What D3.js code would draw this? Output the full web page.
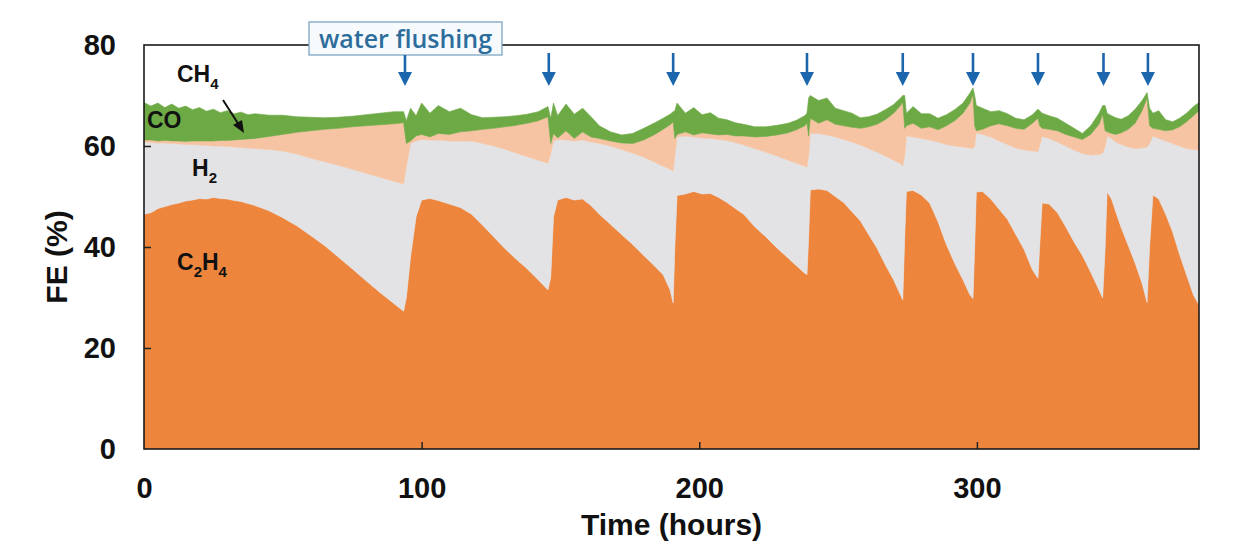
<!DOCTYPE html>
<html>
<head>
<meta charset="utf-8">
<script src="https://cdn.jsdelivr.net/npm/d3@7/dist/d3.min.js"></script>
<style>
  html, body { margin: 0; padding: 0; background: #ffffff; }
  svg { display: block; }
</style>
</head>
<body>
<svg id="chart" width="1234" height="556"></svg>
<script>
// ---------------- DATA ----------------
const time = [0,2.5,5,7.5,10,12.5,15,17.5,20,22.5,25,27.5,30,32.5,35,37.5,40,45,50,55,60,65,70,75,80,85,90,93.5,
  94.5,96,98,100,103,106,110,114,118,122,126,130,134,138,142,145.5,
  146.5,147.5,149,152,155,158,161,164,168,172,176,180,184,187,189.5,190.6,
  191.2,192,195,198,201,204,207,210,213,216,220,224,228,232,235,238,238.8,
  239.4,240,243,246,249,252,255,258,261,264,267,270,272.5,273.3,
  274,274.6,277,280,283,286,289,292,295,297.5,298.6,
  299.2,299.8,302,305,308,311,314,317,320,322,
  322.6,323.5,326,329,332,335,338,341,344,345.3,
  346.2,346.9,348.5,350,352,354.5,357,359.5,361.3,
  362.2,363.4,365.5,368,370.5,373,375.5,378,380];

const c2h4 = [46.5,46.8,47.6,48,48.4,48.7,49.1,49.3,49.6,49.5,49.8,49.6,49.5,49.2,49,48.6,48.2,47.2,45.8,44.2,42.3,40.3,38,35.7,33.3,31,28.8,27.3,
  30,38,46,49.3,49.6,49.2,48.5,47.8,46.5,44.3,42,39.7,37.6,35.7,33.5,31.5,
  34,46,49.3,49.8,49.3,49.5,48.2,46.5,44.5,42.5,40.5,38.3,36.2,34.5,31.5,28.9,
  40,50.2,50.5,51,50.5,50.6,49.8,48.8,47.6,46.5,44,42,39.8,37.8,36.3,34.8,34.5,
  42,51.3,51.5,51.2,50,48.8,47,45.2,42.5,39.8,36.5,33.5,30.5,29.5,
  42,51,51.2,50.3,48.7,45,40.5,36.8,33.5,30.5,29.8,
  40,50.9,51,49.5,47.5,45.5,42.5,39.5,35.5,33.8,
  40,48.7,48.5,46.8,44,41,38.3,35,31.5,29.9,
  40,50.9,49.5,47,43.8,40.3,36.8,32.8,29,
  40,50.3,49.5,46.5,43,38.5,34.5,30.5,28.5];

const h2 = [14.3,13.9,13.0,12.6,12.1,11.7,11.2,11.0,10.6,10.6,10.2,10.4,10.4,10.6,10.7,11.0,11.3,12.1,13.2,14.2,15.3,16.6,18.2,19.7,21.3,22.8,24.2,25.2,
  26,22.5,15,12,11.6,12,12.5,13.2,14.5,16.2,18,19.7,21,22.2,23.7,25.1,
  24.5,15,12,11.4,11.7,11.7,12.6,14,15.5,16.8,18.1,19.5,20.6,21.5,23.9,26.1,
  18,11.6,11.5,10.8,11.1,10.9,11.5,12.3,13.1,13.7,15.5,16.8,18.2,19.4,20.3,21.2,21.3,
  16,11.2,11,11,11.8,12.5,13.8,15,17,19,21.5,23.7,26,26.6,
  16,11,10.6,11.2,12.5,15.8,19.8,23.2,26.3,29.1,29.7,
  20,11.7,11.3,12.3,13.5,14.8,17.1,19.7,23.5,25.1,
  20,13.2,13,14,16,18.2,20.2,23.2,26.8,28.7,
  20,11.1,12,13.8,16.5,19.5,22.7,26.8,30.8,
  20.5,11.7,12,14.5,17.5,21.5,25,28.8,30.7];

const ch4 = [0.4,0.5,0.4,0.5,0.5,0.6,0.6,0.7,0.8,0.9,1.0,1.1,1.2,1.4,1.6,1.8,2.0,2.6,3.3,4.3,5.4,6.4,7.3,8.4,9.4,10.4,11.4,12.1,
  4.5,0.5,1.0,1.0,0.6,1.3,1.3,1.8,2.0,2.8,3.5,4.4,5.5,6.6,7.8,9.2,
  2.0,1.5,0.3,1.8,0.5,1.6,1.0,1.0,1.0,1.3,1.9,3.4,5.5,7.3,8.8,9.8,
  3.5,0.5,0.8,0.4,1.0,0.9,0.9,1.2,1.3,1.8,2.3,3.1,4.2,5.4,6.6,8.0,8.7,
  4.0,3.0,2.0,3.0,2.5,2.7,2.9,3.3,4.3,5.5,7.2,9.3,11.5,12.6,
  5.5,2.0,2.7,2.0,2.6,2.4,3.7,5.0,6.7,8.9,10.8,
  4.0,0.4,1.0,2.2,3.4,3.7,3.9,4.1,5.5,6.6,
  4.0,1.6,1.8,2.2,2.3,2.6,2.8,4.1,6.0,7.7,
  3.0,0.8,1.0,1.5,2.3,3.5,5.0,7.4,9.7,
  3.5,1.5,1.8,2.0,2.7,3.8,5.3,6.7,7.8];

const co = [7.4,6.7,7.5,6.5,7.3,6.5,7.0,6.2,6.6,5.9,6.3,5.5,5.9,5.2,5.4,4.8,4.9,4.2,3.8,3.1,2.7,2.3,2.2,2.1,2.2,2.3,2.4,2.2,
  4.5,6.5,4.0,6.2,4.7,5.5,4.5,4.7,3.2,2.3,2.2,2.0,1.9,1.8,1.8,2.0,
  5.0,6.0,4.4,5.3,4.8,4.7,4.0,2.5,1.8,1.6,2.0,2.3,2.3,2.2,2.1,2.0,
  5.5,6.2,3.7,5.4,3.6,4.2,3.3,2.9,2.6,2.3,2.0,1.9,1.9,1.9,1.9,2.0,2.0,
  7.5,4.5,4.5,4.3,3.2,3.0,2.8,2.1,2.0,2.0,2.0,1.7,1.5,1.3,
  6.5,2.5,3.3,2.9,2.6,2.3,2.2,2.2,2.0,2.0,1.2,
  6.0,5.0,4.2,2.8,2.6,2.4,2.0,1.9,1.7,1.8,
  3.0,3.0,2.7,2.5,2.2,1.7,1.2,1.7,2.2,1.7,
  5.0,3.7,3.5,3.3,2.7,2.7,2.8,2.0,1.1,
  3.5,3.0,3.7,2.2,1.6,1.7,1.7,1.8,1.6];

const seriesKeys = ["C2H4", "H2", "CH4", "CO"];
const flushTimes = [94, 145.8, 190.6, 238.8, 273.3, 298.6, 322, 345.6, 361.6];
const xTicks = [0, 100, 200, 300];
const yTicks = [0, 20, 40, 60, 80];

// ---------------- STYLE ----------------
const colors = { C2H4: "#ED853D", H2: "#E3E3E5", CH4: "#F6C4A3", CO: "#6DAA45" };
const arrowBlue = "#1B66AC";
const W = 1234, H = 556;
const m = { left: 144, right: 1199, top: 45, bottom: 449 };

const svg = d3.select("#chart");

const x = d3.scaleLinear().domain([0, 380]).range([m.left, m.right]);
const y = d3.scaleLinear().domain([0, 80]).range([m.bottom, m.top]);

const rows = time.map((t, i) => ({ t, C2H4: c2h4[i], H2: h2[i], CH4: ch4[i], CO: co[i] }));
const stacked = d3.stack().keys(seriesKeys)(rows);

svg.append("defs").append("clipPath").attr("id", "plotClip")
  .append("rect").attr("x", m.left).attr("y", m.top)
  .attr("width", m.right - m.left).attr("height", m.bottom - m.top);

const area = d3.area()
  .x(d => x(d.data.t))
  .y0(d => y(d[0]))
  .y1(d => y(d[1]))
  .curve(d3.curveLinear);

svg.append("g").attr("clip-path", "url(#plotClip)")
  .selectAll("path").data(stacked).join("path")
  .attr("fill", d => colors[d.key])
  .attr("stroke", d => colors[d.key])
  .attr("stroke-width", 0.6)
  .attr("d", area);

// Axes
const fontAxis = "'Liberation Sans', Arial, sans-serif";
const yAxis = d3.axisLeft(y).tickValues(yTicks).tickSize(-7).tickPadding(28).tickFormat(d3.format("d"));
const gy = svg.append("g").attr("transform", `translate(${m.left},0)`).call(yAxis);
gy.select(".domain").remove();
gy.selectAll(".tick line").attr("stroke", "#222").attr("stroke-width", 1.5)
  .attr("display", d => (d === 0 || d === 80) ? "none" : null);
gy.selectAll(".tick text").attr("font-family", fontAxis).attr("font-weight", "bold")
  .attr("font-size", 29).attr("fill", "#111");

const xAxis = d3.axisBottom(x).tickValues(xTicks).tickSize(-7).tickPadding(28).tickFormat(d3.format("d"));
const gx = svg.append("g").attr("transform", `translate(0,${m.bottom})`).call(xAxis);
gx.select(".domain").remove();
gx.selectAll(".tick line").attr("stroke", "#222").attr("stroke-width", 1.5)
  .attr("display", d => d === 0 ? "none" : null);
gx.selectAll(".tick text").attr("font-family", fontAxis).attr("font-weight", "bold")
  .attr("font-size", 29).attr("fill", "#111");

// Frame
svg.append("rect").attr("x", m.left).attr("y", m.top)
  .attr("width", m.right - m.left).attr("height", m.bottom - m.top)
  .attr("fill", "none").attr("stroke", "#1a1a1a").attr("stroke-width", 1.6);

// Axis titles
svg.append("text").attr("x", (m.left + m.right) / 2).attr("y", 535)
  .attr("text-anchor", "middle").attr("font-family", fontAxis).attr("font-weight", "bold")
  .attr("font-size", 30).attr("fill", "#111").text("Time (hours)");
svg.append("text").attr("transform", "translate(67,257) rotate(-90)")
  .attr("text-anchor", "middle").attr("font-family", fontAxis).attr("font-weight", "bold")
  .attr("font-size", 30).attr("fill", "#111").text("FE (%)");

// Water flushing label box
svg.append("rect").attr("x", 309).attr("y", 22).attr("width", 193).attr("height", 33)
  .attr("fill", "#f6fafd").attr("stroke", "#7ea6c3").attr("stroke-width", 1.3);
svg.append("text").attr("x", 405.5).attr("y", 48)
  .attr("text-anchor", "middle").attr("font-family", "'Open Sans', sans-serif")
  .attr("font-weight", 600).attr("font-size", 25).attr("fill", "#2d6d9c").text("water flushing");

// Flush arrows
const ga = svg.append("g");
flushTimes.forEach((t, i) => {
  const cx = x(t);
  const top = i === 0 ? 55 : 53;
  ga.append("line").attr("x1", cx).attr("x2", cx).attr("y1", top).attr("y2", 74)
    .attr("stroke", arrowBlue).attr("stroke-width", 2.6);
  ga.append("path").attr("d", `M${cx - 7},72 L${cx + 7},72 L${cx},86 Z`).attr("fill", arrowBlue);
});

// Species labels
const fontLbl = "'Liberation Sans', Arial, sans-serif";
function species(xp, yp, parts) {
  const t = svg.append("text").attr("x", xp).attr("y", yp)
    .attr("font-family", fontLbl).attr("font-weight", "bold").attr("font-size", 23).attr("fill", "#111");
  parts.forEach(p => {
    if (p.sub) {
      t.append("tspan").attr("font-size", 15).attr("dy", 7).text(p.s);
    } else {
      t.append("tspan").attr("dy", p.back ? -7 : 0).text(p.s);
    }
  });
}
species(177, 82, [{ s: "CH" }, { s: "4", sub: true }]);
species(147, 128, [{ s: "CO" }]);
species(192, 176, [{ s: "H" }, { s: "2", sub: true }]);
species(177, 270, [{ s: "C" }, { s: "2", sub: true }, { s: "H", back: true }, { s: "4", sub: true }]);

// CH4 pointer arrow
svg.append("line").attr("x1", 223).attr("y1", 100).attr("x2", 239).attr("y2", 125)
  .attr("stroke", "#111").attr("stroke-width", 2);
svg.append("path").attr("d", "M244,133 L233,125 L242,120 Z").attr("fill", "#111");
</script>
</body>
</html>
